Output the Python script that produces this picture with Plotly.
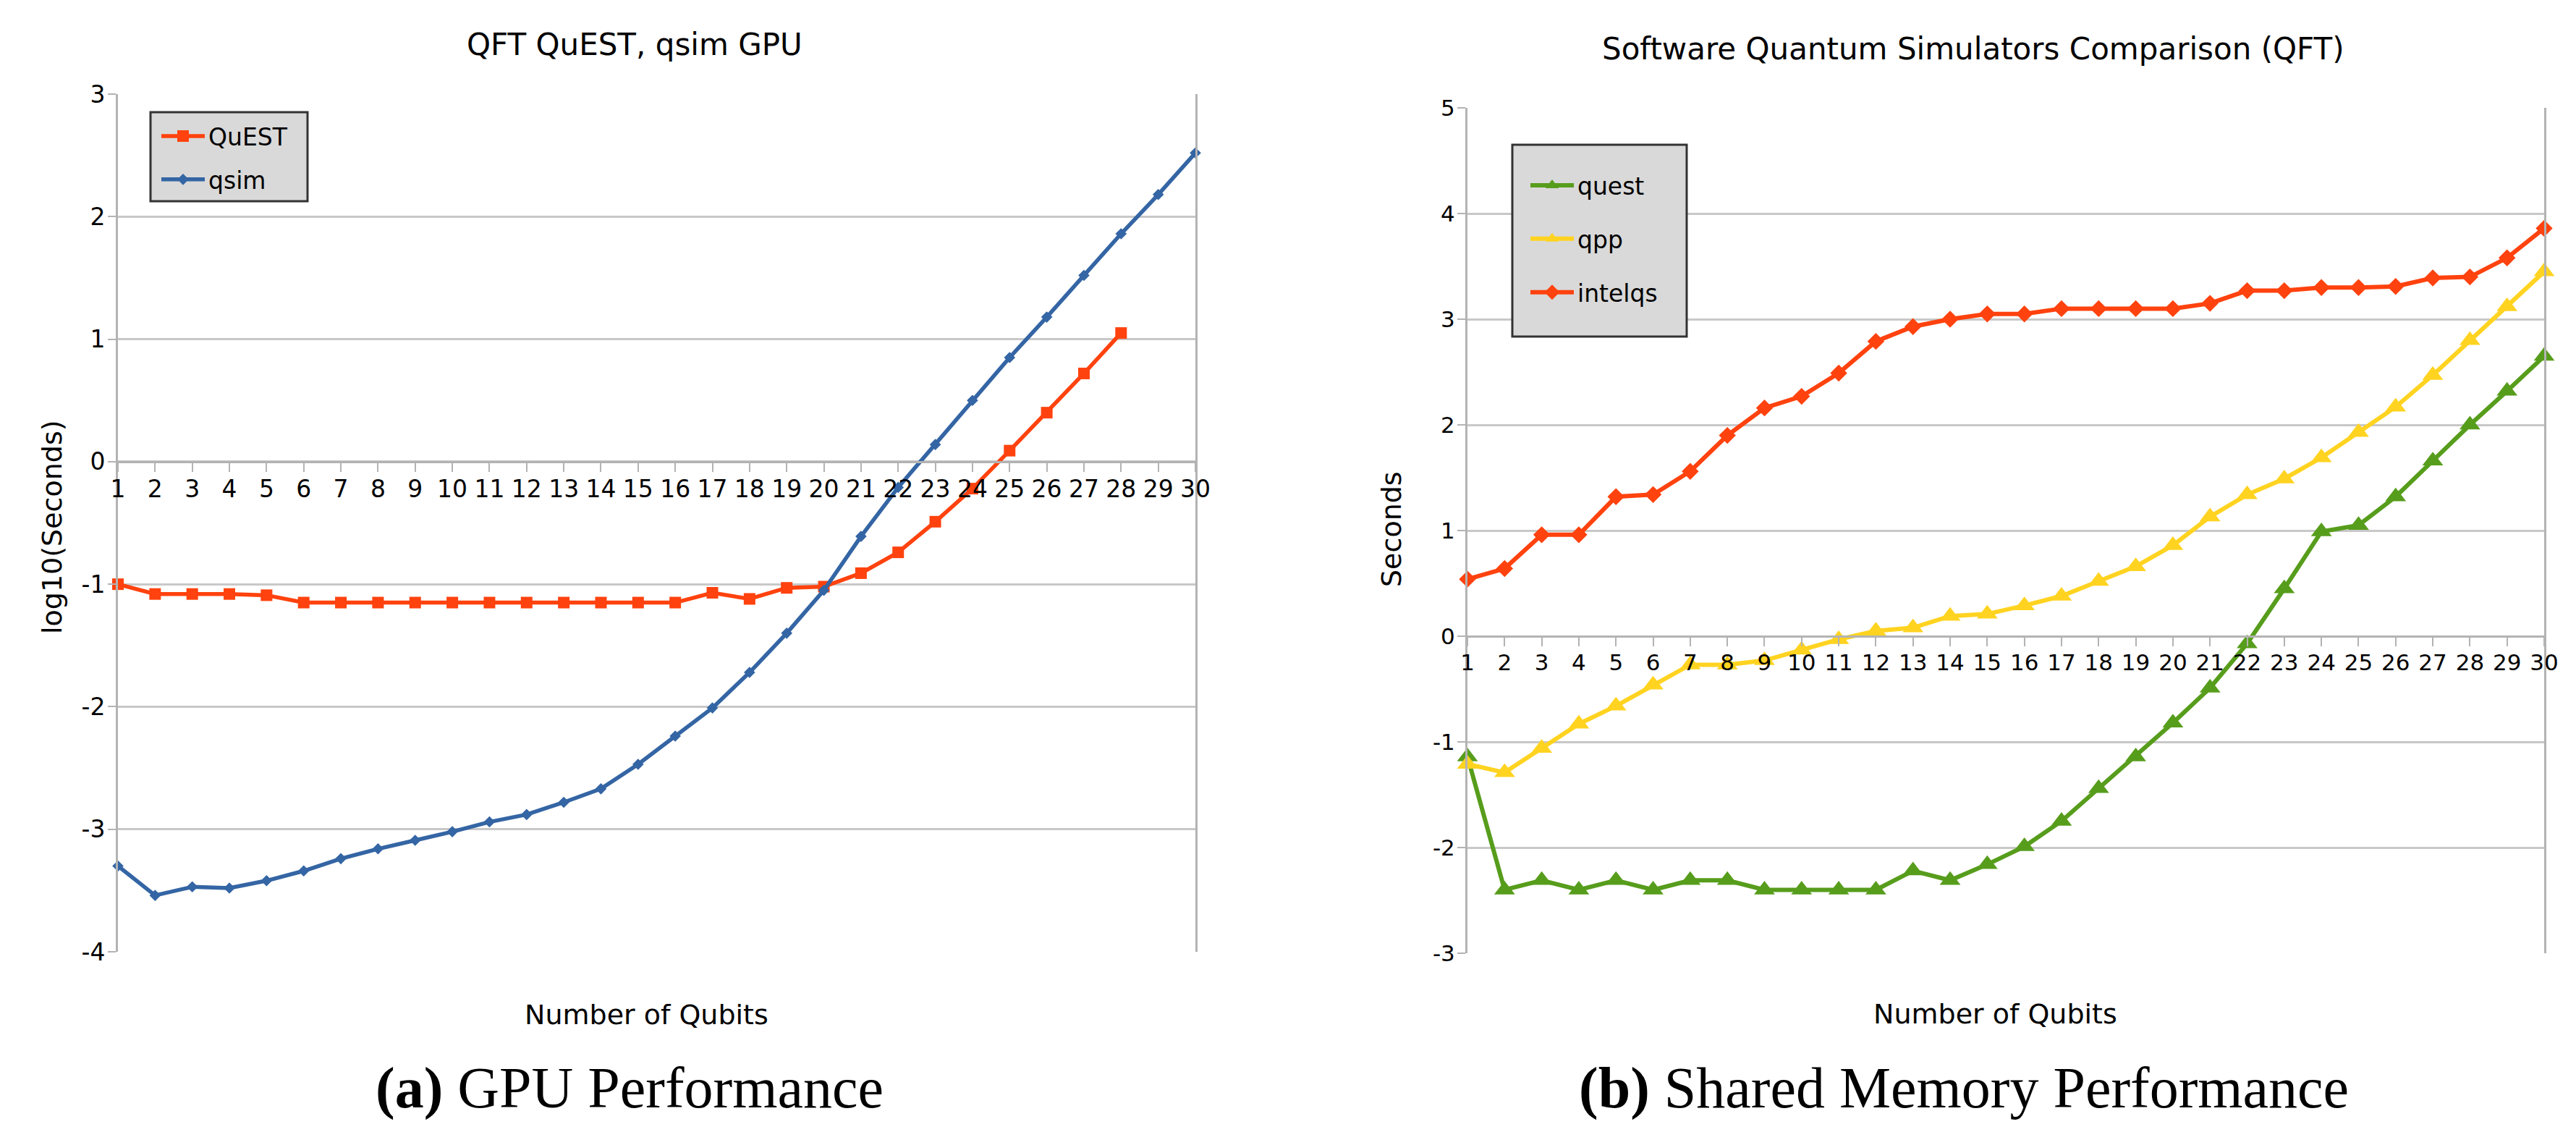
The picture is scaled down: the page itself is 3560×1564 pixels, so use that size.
import plotly.graph_objects as go

# --- data ---
qubits = list(range(1, 31))

# (a) GPU, log10(seconds)
gpu_quest = [-1.00, -1.08, -1.08, -1.08, -1.09, -1.15, -1.15, -1.15, -1.15, -1.15,
             -1.15, -1.15, -1.15, -1.15, -1.15, -1.15, -1.07, -1.12, -1.03, -1.02,
             -0.91, -0.74, -0.49, -0.22, 0.09, 0.40, 0.72, 1.05]
gpu_qsim = [-3.30, -3.54, -3.47, -3.48, -3.42, -3.34, -3.24, -3.16, -3.09, -3.02,
            -2.94, -2.88, -2.78, -2.67, -2.47, -2.24, -2.01, -1.72, -1.40, -1.05,
            -0.61, -0.21, 0.14, 0.50, 0.85, 1.18, 1.52, 1.86, 2.18, 2.52]

# (b) shared memory
sm_quest = [-1.14, -2.40, -2.31, -2.40, -2.31, -2.40, -2.31, -2.31, -2.40, -2.40,
            -2.40, -2.40, -2.22, -2.31, -2.16, -1.99, -1.75, -1.44, -1.14, -0.82,
            -0.49, -0.07, 0.45, 0.99, 1.05, 1.32, 1.66, 2.00, 2.32, 2.65]
sm_qpp = [-1.21, -1.29, -1.06, -0.83, -0.66, -0.46, -0.27, -0.27, -0.23, -0.13,
          -0.03, 0.05, 0.08, 0.19, 0.21, 0.29, 0.38, 0.52, 0.66, 0.86,
          1.13, 1.34, 1.49, 1.69, 1.93, 2.17, 2.47, 2.80, 3.12, 3.45]
sm_intelqs = [0.54, 0.64, 0.96, 0.96, 1.32, 1.34, 1.56, 1.90, 2.16, 2.27,
              2.49, 2.79, 2.93, 3.00, 3.05, 3.05, 3.10, 3.10, 3.10, 3.10,
              3.15, 3.27, 3.27, 3.30, 3.30, 3.31, 3.39, 3.40, 3.58, 3.86]

left_yticks = [-4, -3, -2, -1, 0, 1, 2, 3]
right_yticks = [-3, -2, -1, 0, 1, 2, 3, 4, 5]

W, H = 3560, 1564
OFF = 8  # page body margin: the figure starts 8px in
FONT = "DejaVu Sans"
GRID = "#c8c8c8"
AXLINE = "#b3b3b3"


def px_x(v):
    return (v - OFF) / W


def px_y(v):
    return 1 - (v - OFF) / H


# plot areas in page pixels (left, right, top, bottom)
left_box = (163, 1652, 130, 1315)
right_box = (2028, 3516, 149, 1317)
left_range = [left_yticks[0], left_yticks[-1]]
right_range = [right_yticks[0], right_yticks[-1]]


def xdom(b):
    return [px_x(b[0]), px_x(b[1])]


def ydom(b):
    return [px_y(b[3]), px_y(b[2])]


def zero_pos(b, rng):
    d = ydom(b)
    return d[0] + (d[1] - d[0]) * (0 - rng[0]) / (rng[1] - rng[0])


fig = go.Figure()

fig.add_trace(go.Scatter(x=qubits[:len(gpu_quest)], y=gpu_quest, name="QuEST",
                         mode="lines+markers", xaxis="x", yaxis="y",
                         line=dict(color="#ff420e", width=5.5),
                         marker=dict(symbol="square", size=16, color="#ff420e"),
                         legend="legend", legendgroup="a1", cliponaxis=False))
fig.add_trace(go.Scatter(x=qubits, y=gpu_qsim, name="qsim",
                         mode="lines+markers", xaxis="x", yaxis="y",
                         line=dict(color="#3465a4", width=5.5),
                         marker=dict(symbol="diamond", size=12, color="#3465a4"),
                         legend="legend", legendgroup="a2", cliponaxis=False))

fig.add_trace(go.Scatter(x=qubits, y=sm_quest, name="quest",
                         mode="lines+markers", xaxis="x2", yaxis="y2",
                         line=dict(color="#579d1c", width=6),
                         marker=dict(symbol="triangle-up", size=25, color="#579d1c"),
                         legend="legend2", legendgroup="b1", cliponaxis=False))
fig.add_trace(go.Scatter(x=qubits, y=sm_qpp, name="qpp",
                         mode="lines+markers", xaxis="x2", yaxis="y2",
                         line=dict(color="#ffd320", width=6),
                         marker=dict(symbol="triangle-up", size=25, color="#ffd320"),
                         legend="legend2", legendgroup="b2", cliponaxis=False))
fig.add_trace(go.Scatter(x=qubits, y=sm_intelqs, name="intelqs",
                         mode="lines+markers", xaxis="x2", yaxis="y2",
                         line=dict(color="#ff420e", width=6),
                         marker=dict(symbol="diamond", size=18, color="#ff420e"),
                         legend="legend2", legendgroup="b3", cliponaxis=False))


def x_axis(box, rng, size):
    return dict(domain=xdom(box), range=[qubits[0], qubits[-1]], anchor="free",
                position=zero_pos(box, rng), automargin=False,
                tickmode="array", tickvals=qubits, ticktext=[str(q) for q in qubits],
                ticks="outside", ticklen=12, tickwidth=2, tickcolor=AXLINE,
                showline=True, linecolor=AXLINE, linewidth=3,
                showgrid=False, zeroline=False, ticklabelstandoff=-4,
                tickfont=dict(family=FONT, size=size, color="#000"))


def y_axis(box, ticks, xname, size):
    return dict(domain=ydom(box), range=[ticks[0], ticks[-1]], anchor=xname,
                automargin=False, tickmode="array", tickvals=ticks,
                ticktext=[str(t) for t in ticks],
                ticks="outside", ticklen=11, tickwidth=2, tickcolor=AXLINE,
                showline=True, linecolor=AXLINE, linewidth=3, mirror=True,
                showgrid=True, gridcolor=GRID, gridwidth=2.5, zeroline=False,
                ticklabelstandoff=-3,
                tickfont=dict(family=FONT, size=size, color="#000"))


ann = []


def text(x, y, s, size, fam=FONT, angle=0):
    ann.append(dict(x=px_x(x), y=px_y(y), xref="paper", yref="paper", text=s,
                    showarrow=False, xanchor="center", yanchor="middle",
                    textangle=angle, font=dict(family=fam, size=size, color="#000")))


text(877, 62, "QFT QuEST, qsim GPU", 42)
text(2727, 67, "Software Quantum Simulators Comparison (QFT)", 42)
text(893, 1402, "Number of Qubits", 38)
text(2757, 1401, "Number of Qubits", 38)
text(72, 728, "log10(Seconds)", 38, angle=-90)
text(1923, 731, "Seconds", 38, angle=-90)
text(870, 1503, "<b>(a)</b> GPU Performance", 80, fam="Liberation Serif")
text(2714, 1503, "<b>(b)</b> Shared Memory Performance", 80, fam="Liberation Serif")

shapes = [
    dict(type="rect", xref="paper", yref="paper", layer="above",
         x0=px_x(208), x1=px_x(425), y0=px_y(278), y1=px_y(155),
         fillcolor="#d9d9d9", line=dict(color="#333333", width=3)),
    dict(type="rect", xref="paper", yref="paper", layer="above",
         x0=px_x(2090), x1=px_x(2331), y0=px_y(465), y1=px_y(200),
         fillcolor="#d9d9d9", line=dict(color="#333333", width=3)),
]

legend_common = dict(bgcolor="rgba(0,0,0,0)", borderwidth=0, xanchor="left",
                     yanchor="top", traceorder="grouped", itemwidth=60,
                     font=dict(family=FONT, size=33, color="#000"))

fig.update_layout(
    template="none",
    width=W, height=H,
    margin=dict(l=0, r=0, t=0, b=0, pad=0, autoexpand=False),
    paper_bgcolor="white", plot_bgcolor="white",
    font=dict(family=FONT, color="#000"),
    xaxis=x_axis(left_box, left_range, 33),
    yaxis=y_axis(left_box, left_yticks, "x", 33),
    xaxis2=x_axis(right_box, right_range, 31),
    yaxis2=y_axis(right_box, right_yticks, "x2", 31),
    annotations=ann, shapes=shapes,
    legend=dict(x=px_x(218), y=px_y(160), tracegroupgap=14, **legend_common),
    legend2=dict(x=px_x(2110), y=px_y(228), tracegroupgap=28, **legend_common),
)

fig.write_html("out.html")
